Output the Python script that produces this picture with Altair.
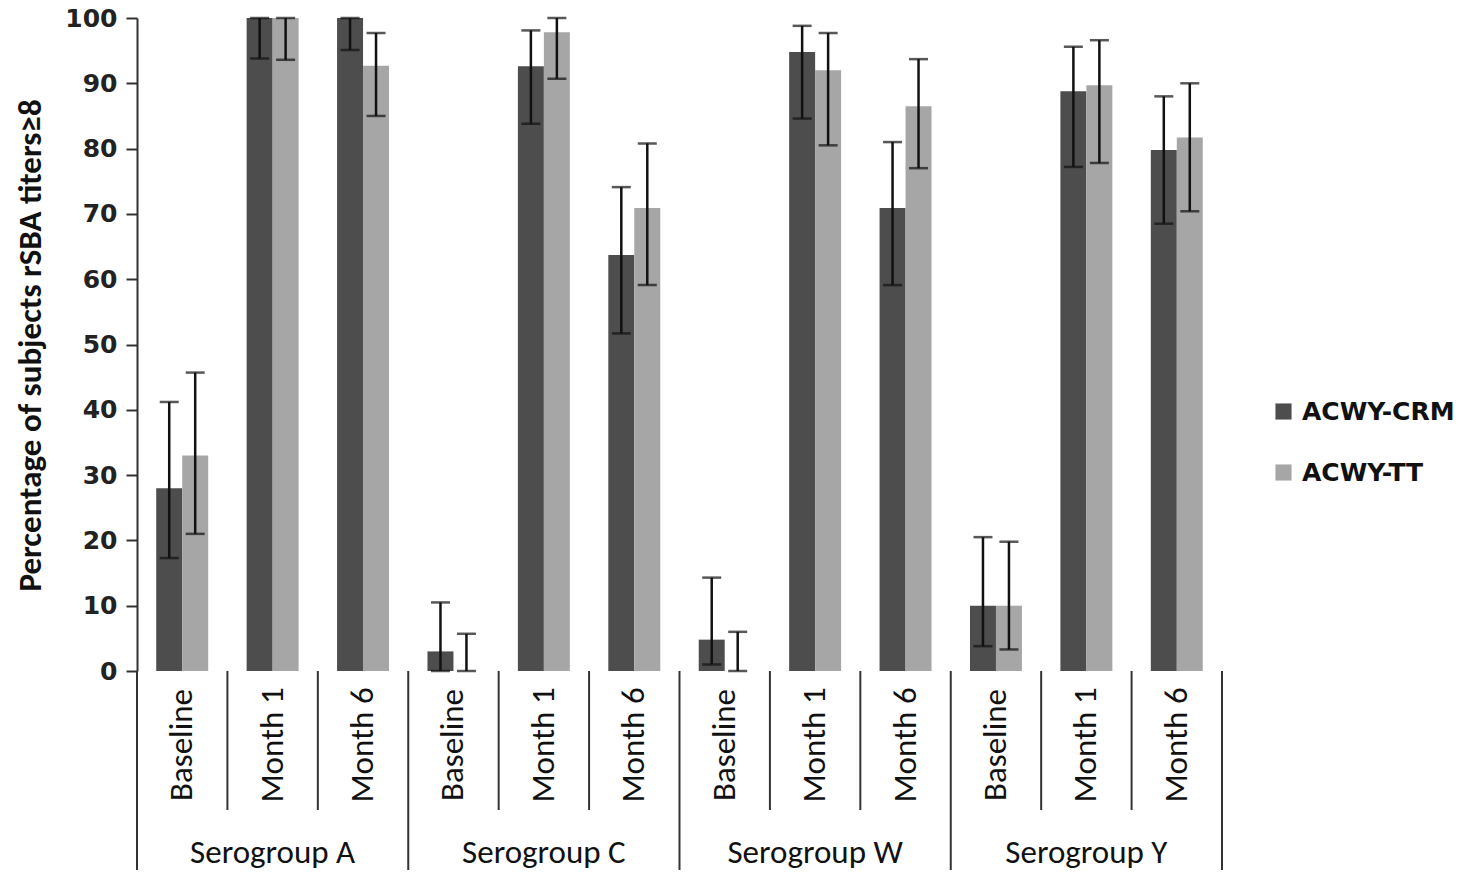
import altair as alt
import pandas as pd

groups = ["Serogroup A", "Serogroup C", "Serogroup W", "Serogroup Y"]
times = ["Baseline", "Month 1", "Month 6"]
series = ["ACWY-CRM", "ACWY-TT"]

# values per group, in time order
crm_val = [[28, 100, 100], [3, 92.6, 63.7], [4.8, 94.8, 70.9], [10, 88.8, 79.8]]
crm_lo = [[17.3, 93.8, 95.1], [0, 83.8, 51.7], [1, 84.6, 59.1], [3.8, 77.2, 68.5]]
crm_hi = [[41.2, 100, 100], [10.5, 98.1, 74.1], [14.3, 98.8, 81], [20.5, 95.6, 88]]
tt_val = [[33, 100, 92.7], [0, 97.8, 70.9], [0, 92, 86.5], [10, 89.7, 81.7]]
tt_lo = [[21, 93.6, 85], [0, 90.7, 59.1], [0, 80.5, 77], [3.3, 77.8, 70.4]]
tt_hi = [[45.7, 100, 97.7], [5.7, 100, 80.8], [6, 97.7, 93.7], [19.8, 96.6, 90]]

y_ticks = [0, 10, 20, 30, 40, 50, 60, 70, 80, 90, 100]

rows = []
cats = []
for gi, g in enumerate(groups):
    for ti, t in enumerate(times):
        cat = g + "|" + t
        cats.append(cat)
        rows.append(dict(cat=cat, group=g, time=t, series=series[0],
                         value=crm_val[gi][ti], lo=crm_lo[gi][ti], hi=crm_hi[gi][ti]))
        rows.append(dict(cat=cat, group=g, time=t, series=series[1],
                         value=tt_val[gi][ti], lo=tt_lo[gi][ti], hi=tt_hi[gi][ti]))
df = pd.DataFrame(rows)

cat_df = pd.DataFrame([dict(cat=g + "|" + t, group=g, time=t) for g in groups for t in times])
inner_df = cat_df[cat_df["time"] != "Baseline"]
outer_df = cat_df[cat_df["time"] == "Baseline"]
last_df = cat_df.tail(1)
group_lbl_df = cat_df[cat_df["time"] == "Month 1"]

W, H = 1085, 653
LABEL_FONT = "Carlito, Lato"

xscale = alt.Scale(domain=cats, paddingInner=0, paddingOuter=0)
offscale = alt.Scale(domain=series, paddingInner=0, paddingOuter=0.74)
color = alt.Color("series:N", scale=alt.Scale(domain=series, range=["#4d4d4d", "#a6a6a6"]),
                  legend=alt.Legend(title=None, orient="none", legendX=1134, legendY=381,
                                    symbolType="square", symbolSize=260, symbolStrokeWidth=0,
                                    labelFont="DejaVu Sans", labelFontWeight="bold",
                                    labelFontSize=25, labelColor="#111111", labelOffset=6,
                                    rowPadding=35, padding=0))

base = alt.Chart(df)

bars = base.mark_bar().encode(
    x=alt.X("cat:N", scale=xscale, sort=cats,
            axis=alt.Axis(labels=False, ticks=False, title=None, domainColor="#333333", domainWidth=2)),
    xOffset=alt.XOffset("series:N", scale=offscale, sort=series),
    y=alt.Y("value:Q", scale=alt.Scale(domain=[0, 100], nice=False),
            axis=alt.Axis(values=y_ticks, grid=False, tickSize=11, tickWidth=2, tickColor="#333333",
                          domainColor="#333333", domainWidth=2,
                          labelFont="DejaVu Sans", labelFontWeight="bold", labelFontSize=25,
                          labelColor="#222222", labelPadding=9,
                          title="Percentage of subjects rSBA titers≥8",
                          titleFont=LABEL_FONT, titleFontWeight="bold", titleFontSize=33,
                          titleColor="#111111", titleX=-107, titleY=327, titleAngle=270,
                          titleAlign="center", titleBaseline="middle")),
    color=color,
)

err = base.mark_rule(color="#111111", strokeWidth=2.5).encode(
    x=alt.X("cat:N", scale=xscale, sort=cats, axis=None),
    xOffset=alt.XOffset("series:N", scale=offscale, sort=series),
    y=alt.Y("lo:Q"),
    y2="hi:Q",
)
cap_hi = base.mark_tick(color="#111111", thickness=2.5, size=19).encode(
    x=alt.X("cat:N", scale=xscale, sort=cats, axis=None),
    xOffset=alt.XOffset("series:N", scale=offscale, sort=series),
    y=alt.Y("hi:Q"),
)
cap_lo = base.mark_tick(color="#111111", thickness=2.5, size=19).encode(
    x=alt.X("cat:N", scale=xscale, sort=cats, axis=None),
    xOffset=alt.XOffset("series:N", scale=offscale, sort=series),
    y=alt.Y("lo:Q"),
)

inner_rules = alt.Chart(inner_df).mark_rule(color="#333333", strokeWidth=2).encode(
    x=alt.X("cat:N", scale=xscale, sort=cats, bandPosition=0, axis=None),
    y=alt.value(H), y2=alt.value(792),
)
outer_rules = alt.Chart(outer_df).mark_rule(color="#333333", strokeWidth=2).encode(
    x=alt.X("cat:N", scale=xscale, sort=cats, bandPosition=0, axis=None),
    y=alt.value(H), y2=alt.value(852),
)
last_rule = alt.Chart(last_df).mark_rule(color="#333333", strokeWidth=2).encode(
    x=alt.X("cat:N", scale=xscale, sort=cats, bandPosition=1, axis=None),
    y=alt.value(H), y2=alt.value(852),
)

time_lbls = alt.Chart(cat_df).mark_text(angle=270, align="center", baseline="middle",
                                         font=LABEL_FONT, fontSize=33, color="#111111", dx=2).encode(
    x=alt.X("cat:N", scale=xscale, sort=cats, axis=None),
    y=alt.value(729),
    text="time:N",
)
group_lbls = alt.Chart(group_lbl_df).mark_text(align="center", baseline="middle",
                                               font=LABEL_FONT, fontSize=33, color="#111111").encode(
    x=alt.X("cat:N", scale=xscale, sort=cats, axis=None),
    y=alt.value(835),
    text="group:N",
)

chart = alt.layer(bars, err, cap_hi, cap_lo, inner_rules, outer_rules, last_rule, time_lbls, group_lbls).properties(
    width=W, height=H,
    padding={"left": 137, "top": 18, "right": 237, "bottom": 201},
    autosize="none",
    background="white",
).configure_view(stroke=None)

chart.save("out.html", embed_options={"renderer": "svg", "actions": False})
